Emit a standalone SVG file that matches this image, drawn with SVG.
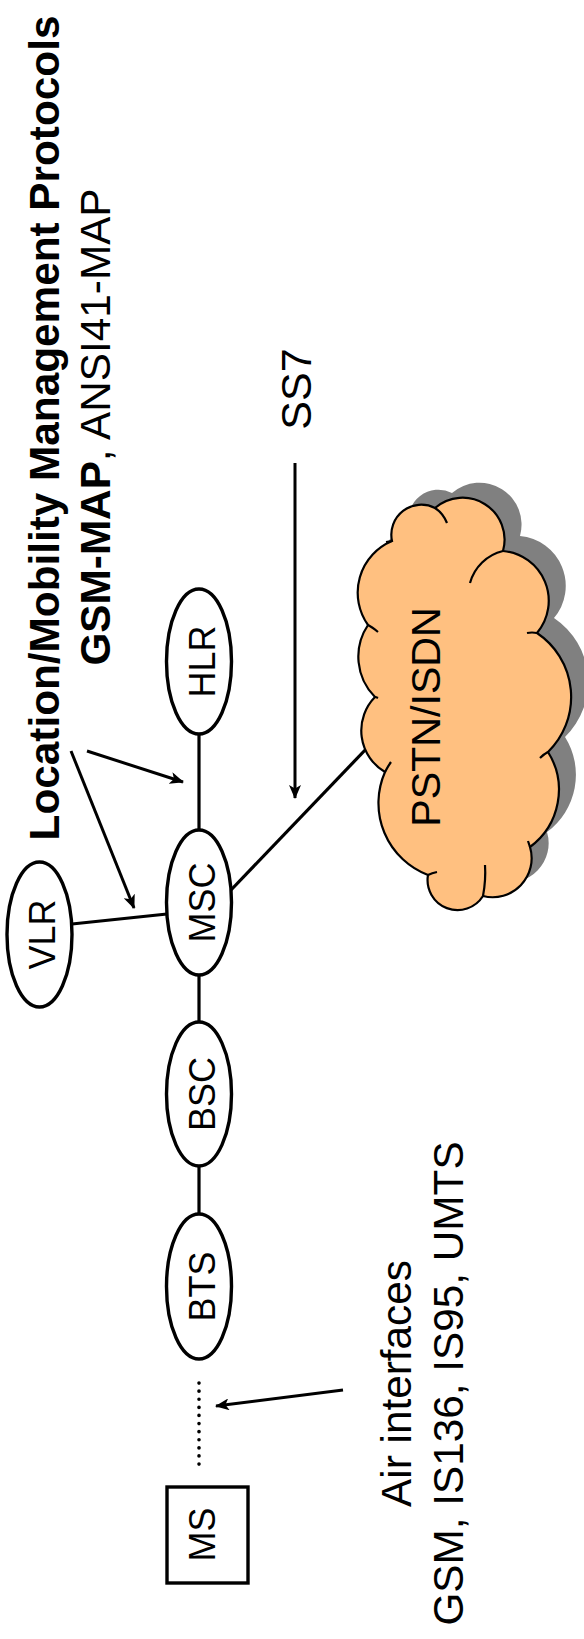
<svg xmlns="http://www.w3.org/2000/svg" width="584" height="1639" viewBox="0 0 584 1639">
  <style>
    text { font-family: "Liberation Sans", Arial, sans-serif; fill: #000; }
    .lbl { font-size: 36px; text-anchor: middle; }
    .big { font-size: 42.3px; text-anchor: middle; }
    .b { font-weight: bold; }
    .node { fill: #fff; stroke: #000; stroke-width: 3.4; }
    .wire { fill: none; stroke: #000; stroke-width: 3.2; }
    .arrow { fill: none; stroke: #000; stroke-width: 3; marker-end: url(#head); }
    .tick { fill: none; stroke: #000; stroke-width: 2.2; }
  </style>
  <defs>
    <marker id="head" viewBox="0 0 14 12" refX="13" refY="6" markerWidth="14" markerHeight="12" markerUnits="userSpaceOnUse" orient="auto">
      <path d="M0,0 L14,6 L0,12 L3.5,6 z" fill="#000"/>
    </marker>
    <path id="cloudShape" d="M392,541 A30,30 0 0 1 435,508 A42,42 0 0 1 503,551 A50,50 0 0 1 537,633 A77,77 0 0 1 548,752 A71,71 0 0 1 530,847 A39,39 0 0 1 483,896 A30,30 0 0 1 428,875 A77,77 0 0 1 385,772 A48,48 0 0 1 375,697 A57,57 0 0 1 368,625 A56,56 0 0 1 392,541 Z"/>
  </defs>

  <!-- title -->
  <g id="title">
    <text class="big b" transform="translate(59,428) rotate(-90)">Location/Mobility Management Protocols</text>
    <text class="big" transform="translate(110,427) rotate(-90)"><tspan class="b">GSM-MAP</tspan>, ANSI41-MAP</text>
  </g>

  <!-- connectors -->
  <g id="connectors">
    <line class="wire" x1="72" y1="924" x2="167" y2="914"/>
    <line class="wire" x1="199" y1="734" x2="199" y2="830"/>
    <line class="wire" x1="199" y1="975" x2="199" y2="1022"/>
    <line class="wire" x1="199" y1="1166" x2="199" y2="1214"/>
    <line class="wire" x1="231" y1="890" x2="368" y2="747"/>
    <line x1="199" y1="1383" x2="199" y2="1472" stroke="#000" stroke-width="3.6" stroke-linecap="round" stroke-dasharray="0.1 8"/>
    <line class="arrow" x1="71" y1="751" x2="134" y2="908"/>
    <line class="arrow" x1="87" y1="751" x2="183" y2="782"/>
    <line class="arrow" x1="295" y1="463" x2="295" y2="798"/>
    <line class="arrow" x1="343" y1="1390" x2="216" y2="1406"/>
  </g>

  <!-- network cloud -->
  <g id="pstn">
    <use href="#cloudShape" transform="translate(17,-15)" fill="#808080"/>
    <use href="#cloudShape" fill="#FFC080" stroke="#000" stroke-width="2.2"/>
    <path class="tick" d="M435,508 Q443,513 447,523"/>
    <path class="tick" d="M470,583 A45,45 0 0 1 503,551"/>
    <path class="tick" d="M527,633 Q532,632 537,633"/>
    <path class="tick" d="M540,758 Q544,754 548,752"/>
    <path class="tick" d="M528,841 Q529,844 530,847"/>
    <path class="tick" d="M485,865 Q486,880 483,896"/>
    <path class="tick" d="M437,872 Q432,873 428,875"/>
    <path class="tick" d="M391,762 Q388,766 385,772"/>
    <path class="tick" d="M378,698 Q376,697 375,697"/>
    <path class="tick" d="M378,632 Q372,627 368,625"/>
    <path class="tick" d="M386,542 L392,541"/>
    <text class="big" style="font-size:41.2px" transform="translate(440,717) rotate(-90)">PSTN/ISDN</text>
  </g>

  <g id="vlr">
    <ellipse class="node" cx="39.5" cy="934.5" rx="32.5" ry="72.5"/>
    <text class="lbl" transform="translate(55,934.5) rotate(-90)">VLR</text>
  </g>
  <g id="hlr">
    <ellipse class="node" cx="199" cy="661.5" rx="32.5" ry="72.5"/>
    <text class="lbl" transform="translate(215,661.5) rotate(-90)">HLR</text>
  </g>
  <g id="msc">
    <ellipse class="node" cx="199" cy="902.5" rx="32.5" ry="72.5"/>
    <text class="lbl" transform="translate(215,902.5) rotate(-90)">MSC</text>
  </g>
  <g id="bsc">
    <ellipse class="node" cx="199" cy="1094" rx="32.5" ry="72"/>
    <text class="lbl" transform="translate(215,1094) rotate(-90)">BSC</text>
  </g>
  <g id="bts">
    <ellipse class="node" cx="199" cy="1286.5" rx="32.5" ry="72.5"/>
    <text class="lbl" transform="translate(215,1286.5) rotate(-90)">BTS</text>
  </g>
  <g id="ms">
    <rect class="node" x="167" y="1487" width="81" height="96"/>
    <text class="lbl" transform="translate(215,1534.5) rotate(-90)">MS</text>
  </g>

  <g id="ss7-label">
    <text class="big" style="font-size:43px" transform="translate(311,389) rotate(-90)">SS7</text>
  </g>
  <g id="air-label">
    <text class="big" transform="translate(411,1383.5) rotate(-90)">Air interfaces</text>
    <text class="big" transform="translate(463,1383.5) rotate(-90)">GSM, IS136, IS95, UMTS</text>
  </g>
</svg>
